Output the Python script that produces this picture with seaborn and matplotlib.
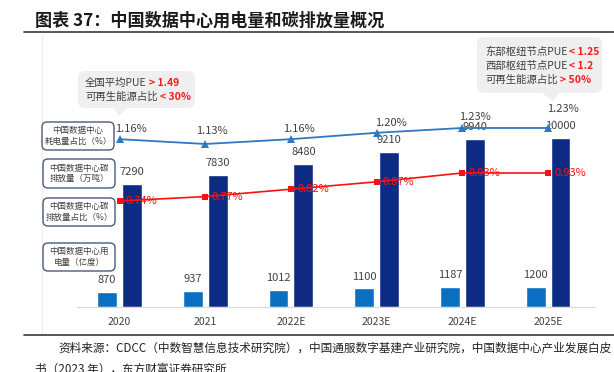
import numpy as np
import pandas as pd
import matplotlib
matplotlib.use("Agg")
import matplotlib.pyplot as plt
import seaborn as sns
from matplotlib.patches import FancyBboxPatch, Polygon
from matplotlib.lines import Line2D
from matplotlib.text import Annotation

# ── Data ──────────────────────────────────────────────────────────────────────
years        = ["2020", "2021", "2022E", "2023E", "2024E", "2025E"]
power_use    = [870, 937, 1012, 1100, 1187, 1200]        # 用电量（亿度）
carbon       = [7290, 7830, 8480, 9210, 9940, 10000]     # 碳排放量（万吨）
power_share  = [1.16, 1.13, 1.16, 1.20, 1.23, 1.23]      # 耗电量占比（%）
carbon_share = [0.74, 0.77, 0.82, 0.87, 0.93, 0.93]      # 碳排放量占比（%）

C_LIGHT = "#0B6FC1"
C_DARK  = "#0E2B83"
C_BLUE  = "#2F78C2"
C_RED   = "#FF1010"
C_TEXT  = "#404040"

sns.set_style("white")
plt.rcParams["font.family"] = ["Noto Sans CJK SC", "DejaVu Sans"]

W, H = 614, 372
fig = plt.figure(figsize=(W / 100, H / 100), dpi=100)
T = fig.dpi_scale_trans


def P(x, y):
    """pixel (from top-left) -> inches for dpi_scale_trans"""
    return x / 100, (H - y) / 100


ax = fig.add_axes([77 / W, 65 / H, 518 / W, 267 / H])
ax.set_facecolor("none")

df = pd.DataFrame({
    "year":   years * 2,
    "value":  power_use + carbon,
    "series": ["用电量"] * len(years) + ["碳排放量"] * len(years),
})
sns.barplot(data=df, x="year", y="value", hue="series",
            palette={"用电量": C_LIGHT, "碳排放量": C_DARK},
            width=0.58, gap=0.2, saturation=1, errorbar=None,
            legend=False, ax=ax)
for cont in ax.containers:
    ax.bar_label(cont, padding=5, fontsize=8, color=C_TEXT)

# ── Share lines on their own hidden scales ────────────────────────────────────
pos = np.arange(len(years))
ax_c = ax.twinx()
ax_p = ax.twinx()
sns.lineplot(x=pos, y=carbon_share, ax=ax_c, color=C_RED, marker="s",
             markersize=5, markeredgewidth=0, linewidth=1.2, zorder=5)
sns.lineplot(x=pos, y=power_share, ax=ax_p, color=C_BLUE, marker="^",
             markersize=5.5, markeredgewidth=0, linewidth=1.3, zorder=5)
ax_c.set_ylim(0.021, 1.832)
ax_p.set_ylim(0.111, 1.78)
for a in (ax_c, ax_p):
    a.axis("off")

for i, v in enumerate(carbon_share):
    ax_c.annotate(f"{v:.2f}%", (i, v), xytext=(4.5, 0), textcoords="offset points",
                  ha="left", va="center", color=C_RED, fontsize=8, zorder=6)

blue_off = [(8, 7), (5, 9), (6, 7), (10, 7), (9, 8), (11, 14)]
for i, v in enumerate(power_share):
    kw = {}
    if i == len(power_share) - 1:
        kw["arrowprops"] = dict(arrowstyle="-", color="#A0A0A0", lw=0.6,
                                shrinkA=3, shrinkB=2)
    ax_p.annotate(f"{v:.2f}%", (i, v), xytext=blue_off[i], textcoords="offset points",
                  ha="center", va="center", color=C_TEXT, fontsize=8, **kw)

ax.set_xlim(-0.496, 5.548)
ax.set_ylim(0, 15830)
ax.set_xlabel("")
ax.set_ylabel("")
ax.set_yticks([])
for s in ("top", "right", "left"):
    ax.spines[s].set_visible(False)
ax.spines["bottom"].set_color("#D9D9D9")
ax.spines["bottom"].set_linewidth(0.8)
ax.tick_params(axis="x", length=0, pad=7, labelsize=7.5, labelcolor=C_TEXT)

# ── Frame: title, rules, source ───────────────────────────────────────────────
fig.text(*P(35, 20.5), "图表 37：中国数据中心用电量和碳排放量概况", transform=T,
         fontsize=12.3, fontweight="bold", color="#1A1A1A", ha="left", va="center")
for yy in (32, 335):
    fig.add_artist(Line2D([0.24, 6.14], [(H - yy) / 100] * 2, transform=T,
                          color="#3A3A3A", lw=1.2))
fig.add_artist(Line2D([0.42, 0.42], [(H - 35) / 100, (H - 333) / 100], transform=T,
                      color="#ECECEC", lw=0.8))
fig.text(*P(58, 348), "资料来源：CDCC（中数智慧信息技术研究院），中国通服数字基建产业研究院，中国数据中心产业发展白皮",
         transform=T, fontsize=8.4, color="#222222", ha="left", va="center")
fig.text(*P(35, 369), "书（2023 年），东方财富证券研究所",
         transform=T, fontsize=8.4, color="#222222", ha="left", va="center")

# ── Left-side series labels ──────────────────────────────────────────────────
side_labels = [
    ((42, 122, 114, 150), "中国数据中心\n耗电量占比（%）"),
    ((43, 159, 115, 188), "中国数据中心碳\n排放量（万吨）"),
    ((43, 198, 115, 226), "中国数据中心碳\n排放量占比（%）"),
    ((43, 243, 115, 271), "中国数据中心用\n电量（亿度）"),
]
for (x0, y0, x1, y1), txt in side_labels:
    fig.add_artist(FancyBboxPatch(P(x0, y1), (x1 - x0) / 100, (y1 - y0) / 100,
                                  boxstyle="round,pad=0,rounding_size=0.05",
                                  transform=T, fc="white", ec="#4A5A7A", lw=1.0,
                                  zorder=4))
    fig.text(*P((x0 + x1) / 2, (y0 + y1) / 2), txt, transform=T, fontsize=6.1,
             color=C_TEXT, ha="center", va="center", linespacing=1.25, zorder=5)


# ── Callouts ─────────────────────────────────────────────────────────────────
def callout(box, tip, lines):
    x0, y0, x1, y1 = box
    fig.add_artist(FancyBboxPatch(P(x0, y1), (x1 - x0) / 100, (y1 - y0) / 100,
                                  boxstyle="round,pad=0,rounding_size=0.07",
                                  transform=T, fc="#EFEFEF", ec="none", zorder=4))
    fig.add_artist(Polygon([P(*p) for p in tip], closed=True, transform=T,
                           fc="#EFEFEF", ec="none", zorder=4))
    for (x, y), black, red in lines:
        t = fig.text(*P(x, y), black, transform=T, fontsize=7.5, color=C_TEXT,
                     ha="left", va="center", zorder=5)
        fig.add_artist(Annotation(red, xy=(1, 0.5), xycoords=t, xytext=(1.5, 0),
                                  textcoords="offset points", ha="left", va="center",
                                  fontsize=7.5, fontweight="bold", color="#F0201E",
                                  annotation_clip=False, zorder=6))


callout((78, 71, 195, 108), [(113, 107), (128, 107), (119, 116)],
        [((85, 83), "全国平均PUE", "> 1.49"),
         ((85, 97), "可再生能源占比", "< 30%")])
callout((477, 37, 602, 93), [(541, 92), (560, 92), (553, 101)],
        [((485, 52), "东部枢纽节点PUE", "< 1.25"),
         ((485, 66), "西部枢纽节点PUE", "< 1.2"),
         ((485, 80), "可再生能源占比", "> 50%")])

fig.savefig("out.png", dpi=100)
